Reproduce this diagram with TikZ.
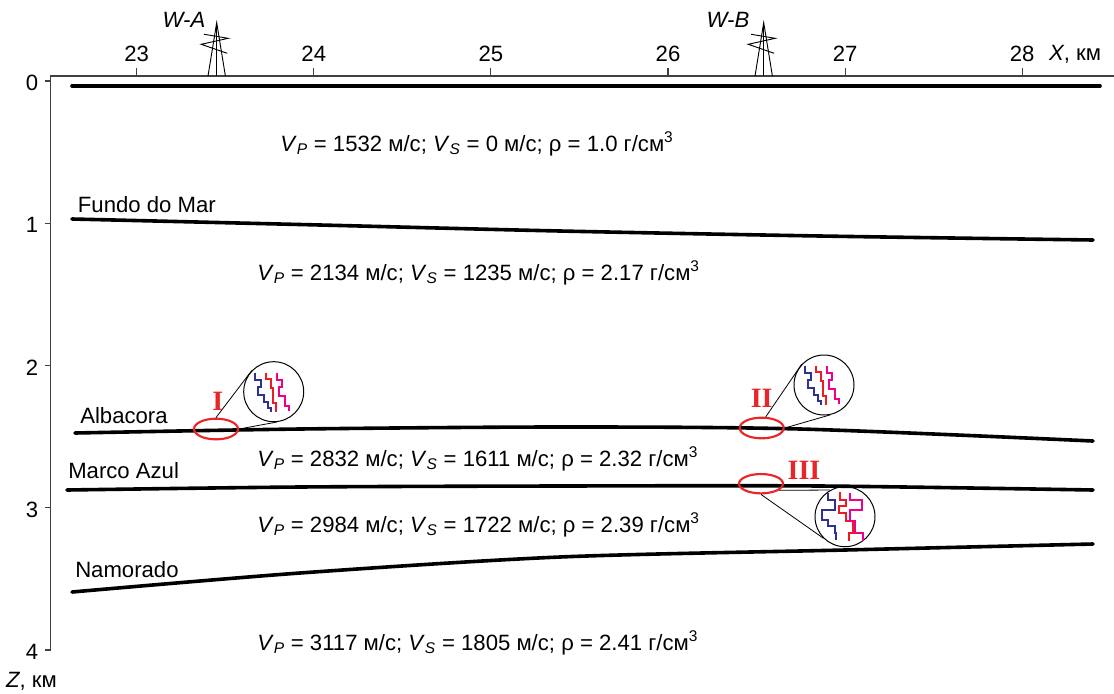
\documentclass[tikz,border=0pt]{standalone}
\usepackage{fontspec}
\setmainfont{Liberation Sans}
\newfontfamily\romanfont{Liberation Serif}
\usetikzlibrary{shapes.geometric}

\definecolor{zoomred}{RGB}{232,38,42}
\definecolor{wblue}{RGB}{46,49,146}
\definecolor{wred}{RGB}{237,28,36}
\definecolor{wmag}{RGB}{236,0,140}

\newcommand\VelP{\textit{V}\textsubscript{\textit{P}}}
\newcommand\VelS{\textit{V}\textsubscript{\textit{S}}}

\tikzset{
  layer/.style={line width=2.7pt, line cap=round},
  axisline/.style={line width=0.8pt, black!75},
  txt/.style={font=\fontsize{16.6}{19}\selectfont, inner sep=0pt},
  param/.style={txt, anchor=base west},
  zoomell/.style={ellipse, draw=zoomred, line width=1.6pt, minimum width=33pt, minimum height=15.5pt, inner sep=0pt},
  lens/.style={circle, draw, line width=0.75pt, minimum size=45pt, inner sep=0pt},
  leader/.style={line width=0.6pt},
  romlabel/.style={font=\romanfont\bfseries\fontsize{21}{21}\selectfont, text=zoomred, inner sep=0pt},
  rig/.style={line width=0.7pt},
  wiggle/.style={line width=1.45pt, line join=miter}
}

% three stepped traces inside a magnifier, centred at #1
\newcommand\tracesA[1]{%
  \begin{scope}[shift={(#1)}]
    \draw[wiggle, wblue] (-19,-19) -- (-19,-12) -- (-13,-12) -- (-13,-5) -- (-16,-5) -- (-16,3)
      -- (-10,3) -- (-10,10) -- (-6,10) -- (-6,16) -- (-3,16) -- (-3,20);
    \draw[wiggle, wred] (-8,-19) -- (-8,-13) -- (-3,-13) -- (-3,-4) -- (-1,-4) -- (-1,11)
      -- (2,11) -- (2,20);
    \draw[wiggle, wmag] (3,-19) -- (3,-12) -- (8,-12) -- (8,-5) -- (5,-5) -- (5,4)
      -- (11,4) -- (11,14) -- (15,14) -- (15,19);
  \end{scope}}
\newcommand\tracesB[1]{%
  \begin{scope}[shift={(#1)}]
    \draw[wiggle, wblue] (-16.7,-23.7) -- (-16.7,-17) -- (-10,-17) -- (-10,-7) -- (-23.3,-7)
      -- (-23.3,3) -- (-16.7,3) -- (-16.7,9.7) -- (-10,9.7) -- (-10,16.3) -- (-9,16.3) -- (-9,23);
    \draw[wiggle, wred] (-5,-24.3) -- (-5,-17) -- (1,-17) -- (1,-11) -- (-5.7,-11) -- (-5.7,-3.7)
      -- (1,-3.7) -- (1,4.7) -- (7.7,4.7) -- (7.7,16.3) -- (4.3,16.3) -- (4.3,24.7);
    \draw[wiggle, wmag] (5,-23.7) -- (5,-17) -- (16.7,-17) -- (16.7,-7) -- (5,-7) -- (5,4.7)
      -- (10,4.7) -- (10,16.3) -- (18.3,16.3) -- (18.3,24.7);
  \end{scope}}

% drilling rig symbol with apex at #1
\newcommand\rigsymbol[1]{%
  \begin{scope}[shift={(#1)}]
    \draw[rig] (0,0) -- (0,53.3);
    \draw[rig] (-8.7,53.3) -- (0,0) -- (8.7,53.3);
    \draw[rig] (-12.5,11.6) -- (11.5,15.6) -- (-15.5,21.6) -- (10.5,30.6);
  \end{scope}}

\begin{document}
\begin{tikzpicture}[x=0.75pt, y=-0.75pt]
  \useasboundingbox (0,0) rectangle (1114,693);

  % axes
  \draw[axisline] (1114,76) -- (50.7,76) -- (50.7,650);
  \foreach \k in {23,...,28} {
    \draw[axisline] ({136.7+177.1*(\k-23)},68) -- ({136.7+177.1*(\k-23)},76);
    \node[txt] (xl\k) at ({136.7+177.1*(\k-23)},54) {\k};
  }
  \foreach \k in {0,...,4} {
    \draw[axisline] (44.5,{81+142.25*\k}) -- (50.7,{81+142.25*\k});
    \node[txt] (zl\k) at (32,{83+142.25*\k}) {\k};
  }
  \node[txt] (xaxis) at (1075,54) {\textit{X}, км};
  \node[txt] (zaxis) at (31.5,681) {\textit{Z}, км};

  % wells
  \coordinate (wa) at (216.7,22.7);
  \coordinate (wb) at (763.7,22.7);
  \rigsymbol{wa}
  \rigsymbol{wb}
  \node[txt] (walabel) at (184,19.5) {\textit{W-A}};
  \node[txt] (wblabel) at (728,20) {\textit{W-B}};

  % layer boundaries
  \draw[layer] (72,86) -- (1100,86);
  \draw[layer] plot[smooth] coordinates {(72,219) (320,225) (560,231) (820,236) (1093,240)};
  \draw[layer] plot[smooth] coordinates {(75,433) (300,429) (560,427) (800,429) (1093,441)};
  \draw[layer] plot[smooth] coordinates {(67,490) (300,487) (560,486) (820,486) (1093,490)};
  \draw[layer] plot[smooth] coordinates {(72,592) (300,573) (560,557) (845,550) (1093,544)};

  \node[txt, anchor=base west] (fundo) at (77.7,212) {Fundo do Mar};
  \node[txt, anchor=base west] (albacora) at (80,423) {Albacora};
  \node[txt, anchor=base west] (marco) at (68,478) {Marco Azul};
  \node[txt, anchor=base west] (namorado) at (75,577) {Namorado};

  % layer parameters
  \node[param] (p1) at (280,151) {\VelP{} = 1532 м/с; \VelS{} = 0 м/с; ρ = 1.0 г/см\textsuperscript{3}};
  \node[param] (p2) at (257,280) {\VelP{} = 2134 м/с; \VelS{} = 1235 м/с; ρ = 2.17 г/см\textsuperscript{3}};
  \node[param] (p3) at (257,466) {\VelP{} = 2832 м/с; \VelS{} = 1611 м/с; ρ = 2.32 г/см\textsuperscript{3}};
  \node[param] (p4) at (257,532) {\VelP{} = 2984 м/с; \VelS{} = 1722 м/с; ρ = 2.39 г/см\textsuperscript{3}};
  \node[param] (p5) at (257,650) {\VelP{} = 3117 м/с; \VelS{} = 1805 м/с; ρ = 2.41 г/см\textsuperscript{3}};

  % magnified zones
  \node[zoomell] (eI) at (216,429) {};
  \node[zoomell] (eII) at (761.7,428) {};
  \node[zoomell, minimum height=14.5pt] (eIII) at (761,483.7) {};
  \node[lens] (cI) at (273.7,391.7) {};
  \node[lens] (cII) at (824,385) {};
  \node[lens] (cIII) at (845,516.7) {};
  \draw[leader] (eI.north) -- (cI.136);
  \draw[leader] (eI.east) -- (cI.-84);
  \draw[leader] (eII.70) -- (cII.137);
  \draw[leader] (eII.east) -- (cII.-78);
  \draw[leader] (eIII.-20) -- (cIII.119);
  \draw[leader] (eIII.south) -- (cIII.-135);
  \tracesA{cI}
  \tracesA{cII}
  \tracesB{cIII}
  \node[romlabel] (lI) at (217.7,401.7) {I};
  \node[romlabel] (lII) at (761.7,398.3) {II};
  \node[romlabel] (lIII) at (804,470) {III};
\end{tikzpicture}
\end{document}
